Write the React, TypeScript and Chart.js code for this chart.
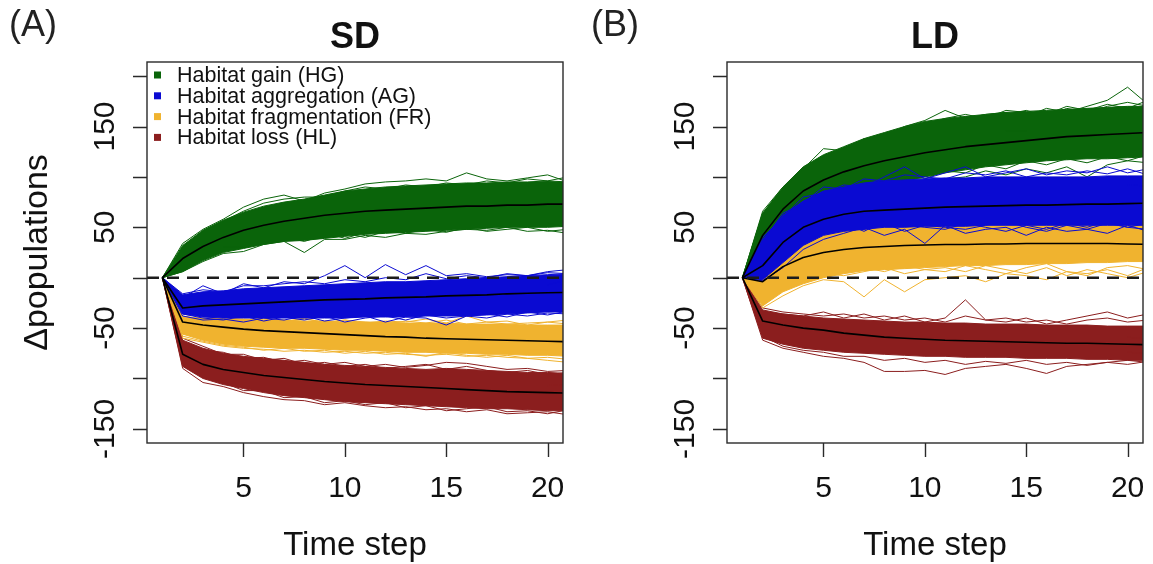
import React, { useEffect, useRef } from 'react';
import { Chart, registerables } from 'chart.js';

Chart.register(...registerables);

const FONT = '"Liberation Sans", Arial, Helvetica, sans-serif';

// ---------- axes ----------
const timeSteps = [1, 2, 3, 4, 5, 6, 7, 8, 9, 10, 11, 12, 13, 14, 15, 16, 17, 18, 19, 20, 21];
const xTicks = [5, 10, 15, 20];
const yTicks = [-150, -100, -50, 0, 50, 100, 150, 200];
const yTickLabels = [-150, -50, 50, 150];
const X_MIN = 0.24;
const X_MAX = 20.76;
const Y_MIN = -164;
const Y_MAX = 214;
const zeroLine = [
  { x: X_MIN, y: 0 },
  { x: X_MAX, y: 0 },
];

const groupNames = ['Habitat gain (HG)', 'Habitat aggregation (AG)', 'Habitat fragmentation (FR)', 'Habitat loss (HL)'];
const groupColors = ['#0a640a', '#0a0ad2', '#f0b32f', '#8b1e1e'];

// ---------- SD panel ----------
const sdGainMean = [0, 19, 31, 40, 47, 52, 56, 59, 62, 64, 66, 67, 68, 69, 70, 71, 71, 72, 72, 73, 73];
const sdGainUpper = [0, 32, 47, 57, 65, 71, 75, 78, 82, 86, 88, 90, 91, 92, 93, 94, 94, 95, 95, 96, 95];
const sdGainLower = [0, 6, 17, 25, 29, 33, 36, 37, 39, 41, 43, 44, 45, 46, 47, 48, 49, 50, 50, 50, 51];
const sdGainRuns = [
  [0, 34, 48, 58, 70, 78, 82, 76, 84, 88, 93, 95, 96, 98, 96, 104, 98, 96, 99, 102, 95],
  [0, 6, 16, 24, 26, 33, 36, 25, 38, 38, 42, 40, 44, 43, 46, 48, 47, 50, 46, 47, 44],
  [0, 10, 22, 30, 30, 38, 42, 40, 45, 39, 45, 50, 44, 52, 50, 48, 53, 55, 51, 54, 50],
  [0, 24, 40, 50, 58, 62, 68, 66, 72, 77, 76, 82, 80, 85, 86, 84, 88, 87, 90, 86, 88],
  [0, 28, 46, 56, 66, 74, 78, 80, 80, 86, 90, 88, 92, 90, 94, 92, 96, 94, 98, 96, 100],
  [0, 12, 20, 28, 34, 36, 40, 36, 42, 44, 40, 46, 44, 48, 45, 50, 46, 48, 50, 46, 48],
];

const sdAggMean = [0, -30, -28, -27, -26, -25, -24, -23, -22, -21.5, -21, -20, -19.5, -19, -18, -17.5, -17, -16, -15.5, -15, -14.5];
const sdAggUpper = [0, -17, -14, -13, -11, -10, -9, -8, -7, -6, -5, -4, -4, -3, -2, -1, 0, 1, 2, 3, 4];
const sdAggLower = [0, -36, -39, -40, -40, -40, -40, -40, -40, -40, -39, -39, -39, -38, -38, -38, -37, -36, -35, -34, -34];
const sdAggRuns = [
  [0, -20, -8, -16, -6, -10, -4, -6, 2, 12, 0, 13, 3, 12, 2, 4, 1, 3, 2, 6, 8],
  [0, -38, -42, -41, -44, -40, -42, -38, -43, -40, -38, -44, -39, -40, -47, -38, -40, -36, -38, -35, -36],
  [0, -26, -20, -25, -18, -22, -16, -20, -14, -18, -12, -16, -10, -12, -8, -11, -6, -9, -4, -7, -2],
  [0, -34, -33, -30, -32, -28, -30, -27, -29, -24, -27, -23, -25, -22, -24, -20, -22, -19, -21, -18, -20],
  [0, -16, -12, -14, -8, -8, -6, -4, -6, -2, -4, 0, -2, 4, -1, 2, 0, 4, 2, 5, 4],
  [0, -36, -40, -42, -38, -43, -39, -42, -38, -44, -40, -38, -42, -37, -40, -38, -36, -39, -34, -37, -33],
];

const sdFragMean = [0, -44, -47, -49, -51, -52.5, -53.5, -54.5, -55.5, -56.5, -57.5, -58.5, -59, -60, -60.5, -61, -61.5, -62, -62.5, -63, -63.5];
const sdFragUpper = [0, -39, -40, -41, -41, -42, -42, -43, -43, -44, -44, -44, -45, -45, -45, -46, -46, -46, -47, -47, -47];
const sdFragLower = [0, -56, -62, -66, -68, -69, -70, -70, -71, -72, -72, -73, -74, -74, -75, -75, -76, -76, -77, -77, -78];
const sdFragRuns = [
  [0, -38, -41, -38, -42, -40, -43, -41, -44, -42, -45, -43, -44, -41, -45, -38, -44, -46, -45, -44, -42],
  [0, -60, -64, -68, -70, -71, -73, -72, -74, -73, -75, -74, -76, -77, -76, -78, -77, -79, -80, -82, -84],
  [0, -46, -50, -52, -55, -54, -57, -56, -58, -60, -58, -61, -62, -60, -64, -63, -62, -66, -64, -67, -65],
  [0, -50, -55, -58, -60, -62, -61, -64, -63, -66, -65, -67, -68, -69, -68, -70, -71, -70, -72, -72, -73],
  [0, -40, -42, -40, -44, -41, -44, -40, -45, -42, -44, -46, -43, -45, -42, -46, -44, -43, -47, -44, -46],
  [0, -58, -63, -67, -69, -72, -70, -73, -72, -75, -73, -76, -75, -78, -74, -77, -79, -77, -80, -79, -81],
];

const sdLossMean = [0, -76, -86, -91, -94, -97, -99, -101, -103, -104.5, -106, -107, -108, -109, -110, -111, -112, -113, -113.5, -114, -114.5];
const sdLossUpper = [0, -62, -70, -75, -78, -80, -82, -84, -86, -87, -88, -89, -90, -91, -90, -91, -92, -93, -94, -94, -95];
const sdLossLower = [0, -88, -100, -106, -110, -114, -117, -119, -121, -123, -124, -125, -126, -127, -128, -129, -130, -130, -131, -132, -132];
const sdLossRuns = [
  [0, -64, -72, -74, -80, -79, -84, -82, -86, -84, -88, -86, -89, -87, -84, -85, -88, -91, -90, -93, -92],
  [0, -90, -104, -108, -114, -118, -121, -122, -126, -124, -127, -129, -128, -131, -130, -133, -131, -135, -134, -133, -136],
  [0, -78, -90, -96, -98, -103, -104, -108, -110, -109, -113, -115, -114, -118, -116, -120, -119, -121, -122, -120, -123],
  [0, -70, -80, -84, -88, -90, -92, -95, -94, -98, -97, -100, -101, -100, -103, -104, -105, -103, -106, -107, -106],
  [0, -60, -68, -76, -76, -82, -80, -86, -84, -88, -86, -90, -88, -86, -91, -88, -92, -94, -92, -96, -94],
  [0, -86, -98, -104, -112, -112, -119, -118, -124, -122, -126, -124, -129, -127, -132, -130, -128, -133, -132, -135, -131],
];

// ---------- LD panel ----------
const ldGainMean = [0, 42, 68, 86, 97, 105, 111, 116, 120, 124, 127, 130, 132, 134, 136, 138, 140, 141, 142, 143, 144];
const ldGainUpper = [0, 64, 90, 110, 122, 130, 138, 144, 150, 155, 158, 160, 162, 164, 165, 166, 167, 168, 169, 170, 170];
const ldGainLower = [0, 22, 45, 62, 72, 80, 86, 92, 96, 100, 104, 107, 110, 112, 114, 116, 117, 118, 118, 119, 120];
const ldGainRuns = [
  [0, 66, 90, 108, 128, 126, 134, 140, 150, 156, 166, 158, 162, 164, 160, 168, 164, 170, 176, 189, 172],
  [0, 18, 40, 58, 66, 76, 82, 88, 90, 96, 98, 100, 106, 102, 108, 104, 110, 100, 112, 116, 114],
  [0, 60, 84, 102, 120, 122, 138, 136, 148, 152, 158, 162, 158, 166, 164, 162, 170, 166, 172, 168, 176],
  [0, 54, 78, 98, 108, 116, 120, 126, 130, 134, 136, 140, 142, 146, 146, 148, 150, 152, 151, 155, 156],
  [0, 64, 88, 106, 118, 128, 132, 142, 146, 154, 150, 160, 156, 162, 166, 160, 168, 164, 170, 174, 170],
  [0, 24, 48, 60, 74, 78, 88, 90, 98, 98, 106, 104, 112, 108, 116, 112, 118, 114, 120, 116, 122],
];

const ldAggMean = [0, 12, 35, 50, 58, 63, 66, 67, 68, 69, 70, 70.5, 71, 71.5, 72, 72, 72.5, 73, 73, 73.5, 74];
const ldAggUpper = [0, 38, 62, 76, 86, 90, 94, 96, 97, 98, 99, 99, 100, 100, 100, 100, 100, 100, 101, 101, 101];
const ldAggLower = [0, -2, 15, 32, 42, 46, 48, 50, 50, 51, 51, 51, 52, 52, 52, 52, 52, 52, 52, 52, 52];
const ldAggRuns = [
  [0, 40, 60, 80, 84, 92, 90, 100, 110, 98, 104, 110, 100, 104, 108, 102, 106, 104, 110, 104, 108],
  [0, -3, 10, 28, 38, 44, 50, 42, 48, 34, 52, 44, 48, 50, 42, 50, 46, 48, 44, 52, 46],
  [0, 4, 22, 40, 50, 54, 46, 56, 52, 50, 48, 54, 50, 46, 52, 48, 54, 50, 56, 50, 54],
  [0, 20, 45, 62, 72, 76, 80, 82, 84, 86, 85, 88, 87, 89, 88, 90, 89, 91, 90, 92, 91],
  [0, 36, 64, 74, 90, 88, 98, 96, 102, 100, 98, 104, 102, 106, 100, 104, 102, 106, 103, 108, 102],
  [0, 2, 18, 36, 44, 50, 48, 54, 46, 52, 50, 48, 52, 56, 50, 46, 52, 48, 54, 50, 48],
];

const ldFragMean = [0, -4, 11, 20, 25, 28, 30, 31, 32, 32.5, 33, 33, 33.5, 33.5, 34, 34, 34, 34, 34, 33.5, 33];
const ldFragUpper = [0, 5, 25, 38, 45, 48, 50, 51, 51, 52, 52, 52, 52, 52, 52, 52, 52, 52, 52, 52, 52];
const ldFragLower = [0, -28, -14, -6, 0, 4, 7, 8, 9, 10, 11, 12, 12, 13, 13, 14, 14, 15, 15, 16, 16];
const ldFragRuns = [
  [0, -30, -18, -8, -2, -4, -19, -2, -14, -2, 0, 2, -4, 4, 2, -2, 6, 4, 8, 2, 10],
  [0, 8, 30, 44, 48, 52, 50, 54, 46, 54, 50, 52, 55, 50, 54, 48, 56, 52, 50, 55, 53],
  [0, -20, 0, 4, 8, 6, 10, 6, 12, 8, 10, 6, 12, 8, 4, 10, 2, 8, 4, 0, 6],
  [0, -10, 15, 26, 34, 38, 36, 40, 42, 38, 44, 40, 42, 44, 40, 46, 42, 44, 40, 42, 44],
  [0, 4, 26, 40, 46, 50, 52, 48, 53, 50, 54, 52, 49, 53, 51, 54, 50, 53, 51, 54, 52],
  [0, -26, -10, -4, 4, 2, 6, 10, 4, 8, 6, 12, 8, 4, 10, 14, 6, 2, 10, 12, 8],
];

const ldLossMean = [0, -43, -47, -50, -52, -55, -57, -59, -60, -61, -62, -62.5, -63, -63.5, -64, -64.5, -65, -65, -65.5, -66, -66.5];
const ldLossUpper = [0, -32, -36, -38, -40, -41, -42, -43, -44, -44, -45, -45, -46, -46, -46, -47, -47, -47, -48, -48, -48];
const ldLossLower = [0, -60, -66, -70, -72, -74, -75, -76, -77, -78, -78, -79, -79, -79, -80, -80, -80, -81, -81, -82, -82];
const ldLossRuns = [
  [0, -34, -36, -38, -34, -40, -36, -42, -38, -44, -40, -22, -42, -44, -40, -46, -42, -38, -34, -40, -36],
  [0, -62, -70, -74, -78, -80, -84, -93, -93, -92, -96, -90, -88, -86, -90, -95, -88, -86, -84, -82, -84],
  [0, -50, -56, -60, -62, -66, -64, -68, -70, -67, -72, -70, -73, -71, -74, -72, -75, -73, -76, -74, -75],
  [0, -38, -44, -48, -50, -51, -53, -52, -55, -54, -56, -55, -57, -56, -58, -57, -59, -58, -60, -59, -61],
  [0, -30, -34, -36, -38, -36, -40, -38, -42, -40, -44, -38, -42, -40, -44, -42, -46, -42, -40, -44, -42],
  [0, -58, -68, -72, -74, -78, -78, -82, -80, -84, -82, -86, -83, -85, -82, -86, -84, -87, -84, -86, -83],
];

type Group = { color: string; mean: number[]; upper: number[]; lower: number[]; runs: number[][]; z: number };

// z: stacking (lower number = drawn on top)
const sdGroups: Group[] = [
  { color: groupColors[0], mean: sdGainMean, upper: sdGainUpper, lower: sdGainLower, runs: sdGainRuns, z: 4 },
  { color: groupColors[1], mean: sdAggMean, upper: sdAggUpper, lower: sdAggLower, runs: sdAggRuns, z: 2 },
  { color: groupColors[2], mean: sdFragMean, upper: sdFragUpper, lower: sdFragLower, runs: sdFragRuns, z: 3 },
  { color: groupColors[3], mean: sdLossMean, upper: sdLossUpper, lower: sdLossLower, runs: sdLossRuns, z: 5 },
];
const ldGroups: Group[] = [
  { color: groupColors[0], mean: ldGainMean, upper: ldGainUpper, lower: ldGainLower, runs: ldGainRuns, z: 4 },
  { color: groupColors[1], mean: ldAggMean, upper: ldAggUpper, lower: ldAggLower, runs: ldAggRuns, z: 2 },
  { color: groupColors[2], mean: ldFragMean, upper: ldFragUpper, lower: ldFragLower, runs: ldFragRuns, z: 3 },
  { color: groupColors[3], mean: ldLossMean, upper: ldLossUpper, lower: ldLossLower, runs: ldLossRuns, z: 5 },
];

function buildDatasets(groups: Group[]) {
  const ds: any[] = [];
  const base = { pointRadius: 0, pointHoverRadius: 0, tension: 0, borderJoinStyle: 'round' };
  groups.forEach((g) => {
    ds.push({ ...base, data: g.upper, borderColor: g.color, backgroundColor: g.color, borderWidth: 1, fill: '+1', order: g.z * 10 + 5 });
    ds.push({ ...base, data: g.lower, borderColor: g.color, borderWidth: 1, fill: false, order: g.z * 10 + 5 });
    g.runs.forEach((r) => {
      ds.push({ ...base, data: r, borderColor: g.color, borderWidth: 1, fill: false, order: g.z * 10 + 2 });
    });
  });
  groups.forEach((g) => {
    ds.push({ ...base, data: g.mean, borderColor: '#000000', borderWidth: 1.6, fill: false, order: 1 });
  });
  ds.push({ ...base, data: zeroLine, borderColor: '#1c1c1c', borderWidth: 2.6, borderDash: [12, 8], fill: false, order: 0 });
  return ds;
}

const decorPlugin = {
  id: 'decor',
  afterDraw(chart: any) {
    const o = chart.options.plugins.decor;
    const { ctx, chartArea: ca } = chart;
    const xs = chart.scales.x;
    const ys = chart.scales.y;
    ctx.save();
    // box
    ctx.strokeStyle = '#2a2a2a';
    ctx.lineWidth = 1.4;
    ctx.strokeRect(ca.left, ca.top, ca.right - ca.left, ca.bottom - ca.top);
    // tick marks
    ctx.beginPath();
    xTicks.forEach((v) => {
      const px = Math.round(xs.getPixelForValue(v)) + 0.5;
      ctx.moveTo(px, ca.bottom);
      ctx.lineTo(px, ca.bottom + 14);
    });
    yTicks.forEach((v) => {
      const py = Math.round(ys.getPixelForValue(v)) + 0.5;
      ctx.moveTo(ca.left, py);
      ctx.lineTo(ca.left - 14, py);
    });
    ctx.stroke();

    ctx.fillStyle = '#111';
    // x tick labels
    ctx.font = `30px ${FONT}`;
    ctx.textAlign = 'center';
    ctx.textBaseline = 'alphabetic';
    xTicks.forEach((v) => ctx.fillText(String(v), xs.getPixelForValue(v), 497));
    // y tick labels (rotated)
    yTickLabels.forEach((v) => {
      const py = ys.getPixelForValue(v);
      ctx.save();
      ctx.translate(ca.left - 33, py);
      ctx.rotate(-Math.PI / 2);
      ctx.textAlign = 'center';
      ctx.fillText(String(v), 0, 0);
      ctx.restore();
    });
    // x title
    const cx = (ca.left + ca.right) / 2;
    ctx.font = `33px ${FONT}`;
    ctx.fillText('Time step', cx, 555);
    // title
    ctx.font = `bold 36px ${FONT}`;
    ctx.fillText(o.title, cx, 48);
    // panel label
    ctx.font = `36px ${FONT}`;
    ctx.textAlign = 'left';
    ctx.fillStyle = '#222';
    ctx.fillText(o.panel, o.panelX, 36);
    ctx.fillStyle = '#111';
    // y title
    if (o.yTitle) {
      ctx.save();
      ctx.translate(47, (ca.top + ca.bottom) / 2);
      ctx.rotate(-Math.PI / 2);
      ctx.textAlign = 'center';
      ctx.font = `34px ${FONT}`;
      ctx.fillText('\u0394populations', 0, 0);
      ctx.restore();
    }
    // legend
    if (o.legend) {
      ctx.font = `21.5px ${FONT}`;
      ctx.textBaseline = 'middle';
      ctx.textAlign = 'left';
      groupNames.forEach((name, i) => {
        const y = ca.top + 13 + i * 20.8;
        ctx.fillStyle = groupColors[i];
        ctx.fillRect(ca.left + 7, y - 3.5, 7, 7);
        ctx.fillStyle = '#111';
        ctx.fillText(name, ca.left + 30, y + 1);
      });
    }
    ctx.restore();
  },
};

function makeConfig(groups: Group[], padding: any, decor: any): any {
  return {
    type: 'line',
    data: { labels: timeSteps, datasets: buildDatasets(groups) },
    options: {
      animation: false,
      responsive: false,
      devicePixelRatio: 1,
      events: [],
      layout: { padding },
      scales: {
        x: { type: 'linear', display: false, min: X_MIN, max: X_MAX },
        y: { type: 'linear', display: false, min: Y_MIN, max: Y_MAX },
      },
      plugins: {
        legend: { display: false },
        tooltip: { enabled: false },
        decor,
      },
    },
    plugins: [decorPlugin],
  };
}

export default function App() {
  const refA = useRef<HTMLCanvasElement>(null);
  const refB = useRef<HTMLCanvasElement>(null);
  useEffect(() => {
    const a = new Chart(
      refA.current as HTMLCanvasElement,
      makeConfig(sdGroups, { left: 147, right: 13, top: 62, bottom: 121 }, { title: 'SD', panel: '(A)', panelX: 9, yTitle: true, legend: true })
    );
    const b = new Chart(
      refB.current as HTMLCanvasElement,
      makeConfig(ldGroups, { left: 151, right: 10, top: 62, bottom: 121 }, { title: 'LD', panel: '(B)', panelX: 15, yTitle: false, legend: false })
    );
    return () => {
      a.destroy();
      b.destroy();
    };
  }, []);
  return (
    <div style={{ position: 'fixed', left: 0, top: 0, width: 1153, height: 564, background: '#ffffff' }}>
      <canvas ref={refA} width={576} height={564} style={{ position: 'absolute', left: 0, top: 0 }} />
      <canvas ref={refB} width={577} height={564} style={{ position: 'absolute', left: 576, top: 0 }} />
    </div>
  );
}
